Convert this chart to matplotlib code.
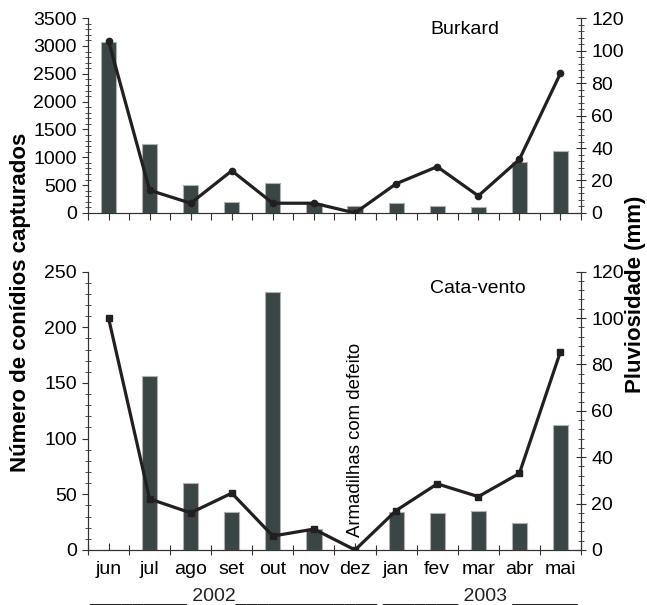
import numpy as np
import matplotlib.pyplot as plt
from matplotlib.ticker import MultipleLocator, FixedLocator, NullFormatter

plt.rcParams['font.family'] = ['Liberation Sans', 'DejaVu Sans']

meses = ['jun', 'jul', 'ago', 'set', 'out', 'nov', 'dez',
         'jan', 'fev', 'mar', 'abr', 'mai']

# Burkard (upper panel)
burkard_conidios = [3070, 1230, 505, 200, 535, 180, 130, 180, 130, 100, 910, 1105]
burkard_chuva = [106, 14, 6, 26, 6, 6, 0, 18, 28.5, 10.5, 33, 86]

# Cata-vento (lower panel), dez = trap out of order
catavento_conidios = [0, 156, 60, 34, 232, 18.5, np.nan, 34, 33, 35, 24, 112]
catavento_chuva = [100, 22, 16, 24.5, 6, 9, 0, 17, 28.5, 23, 33, 85.5]

bar_col = '#3a4545'
line_col = '#231f20'
spine_col = '#333333'
fs = 14

fig = plt.figure(figsize=(6.47, 6.05), dpi=100)
ax1 = fig.add_axes([0.136, 0.648, 0.762, 0.322])
ax2 = fig.add_axes([0.136, 0.091, 0.762, 0.460])

x = np.arange(len(meses))
bounds = np.arange(-0.5, len(meses), 1.0)


def draw_panel(ax, bars, rain, ymax, ystep, yminor, rmarker, title, tx, ty):
    ax.bar(x, bars, width=0.37, color=bar_col, edgecolor='#b0b0b0', linewidth=0.8, zorder=2)
    ax.set_xlim(-0.5, len(meses) - 0.5)
    ax.set_ylim(0, ymax)
    ax.yaxis.set_major_locator(MultipleLocator(ystep))
    ax.yaxis.set_minor_locator(MultipleLocator(yminor))
    ax.tick_params(axis='y', which='major', direction='out', length=4, width=0.8,
                   labelsize=fs, pad=4, color=spine_col)
    ax.tick_params(axis='y', which='minor', direction='inout', length=5, width=0.6,
                   color=spine_col)

    ax.spines['top'].set_visible(False)
    for s in ['left', 'right', 'bottom']:
        ax.spines[s].set_color(spine_col)
        ax.spines[s].set_linewidth(0.8)

    axr = ax.twinx()
    axr.plot(x, rain, color=line_col, lw=2.3, marker=rmarker, ms=4.5, zorder=3)
    axr.set_ylim(0, 120)
    axr.yaxis.set_major_locator(MultipleLocator(20))
    axr.yaxis.set_minor_locator(MultipleLocator(4))
    axr.tick_params(axis='y', which='major', direction='inout', length=7, width=0.8,
                    labelsize=fs, pad=4, color=spine_col)
    axr.tick_params(axis='y', which='minor', direction='inout', length=5, width=0.6,
                    color=spine_col)
    axr.spines['top'].set_visible(False)
    for s in ['left', 'right', 'bottom']:
        axr.spines[s].set_color(spine_col)
        axr.spines[s].set_linewidth(0.8)

    ax.text(tx, ty, title, transform=ax.transAxes, ha='center', va='center', fontsize=fs)
    return axr


# upper panel
ax1r = draw_panel(ax1, burkard_conidios, burkard_chuva, 3500, 500, 100, 'o',
                  'Burkard', 0.765, 0.94)
ax1.xaxis.set_major_locator(FixedLocator(np.concatenate([bounds, x])))
ax1.xaxis.set_major_formatter(NullFormatter())
ax1.tick_params(axis='x', which='major', direction='out', length=5, width=0.8, color=spine_col)

# lower panel
ax2r = draw_panel(ax2, catavento_conidios, catavento_chuva, 250, 50, 10, 's',
                  'Cata-vento', 0.79, 0.94)
ax2.xaxis.set_major_locator(FixedLocator(bounds))
ax2.xaxis.set_major_formatter(NullFormatter())
ax2.xaxis.set_minor_locator(FixedLocator(x))
ax2.set_xticklabels(meses, minor=True)
ax2.tick_params(axis='x', which='major', direction='inout', length=7, width=0.8, color=spine_col)
ax2.tick_params(axis='x', which='minor', direction='in', length=5, width=0.8, color=spine_col,
                labelsize=fs, pad=8)

ax2.text(6, 0.047, 'Armadilhas com defeito', transform=ax2.get_xaxis_transform(),
         rotation=90, ha='center', va='bottom', fontsize=13.4)

# axis titles
fig.text(21 / 647, 0.5, 'Número de conídios capturados', rotation=90, ha='center',
         va='center', fontsize=16, fontweight='bold')
fig.text(635 / 647, 0.514, 'Pluviosidade (mm)', rotation=90, ha='center',
         va='center', fontsize=16, fontweight='bold')

# year labels
fig.text(89 / 647, 4 / 605, '_________ 2002_____________', ha='left', va='baseline',
         fontsize=fs, color='#222222')
fig.text(382 / 647, 4 / 605, '_______ 2003 ______', ha='left', va='baseline',
         fontsize=fs, color='#222222')

fig.savefig('out.png', dpi=100)
